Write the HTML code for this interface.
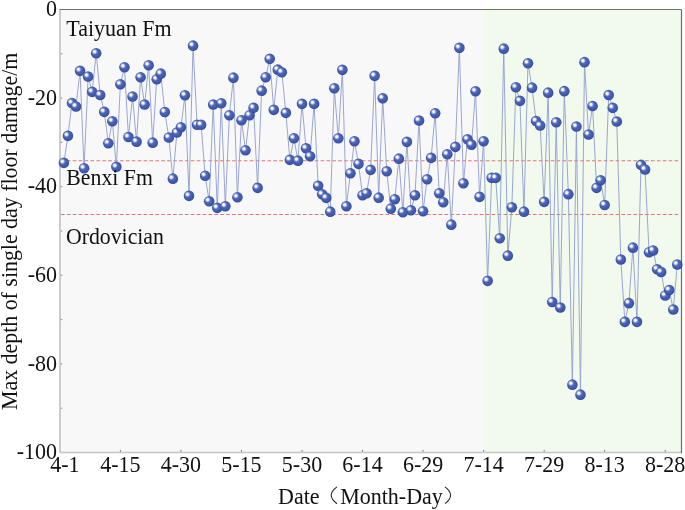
<!DOCTYPE html><html><head><meta charset="utf-8"><style>html,body{margin:0;padding:0;background:#fff;}svg{display:block;}text{font-family:"Liberation Serif",serif;fill:#111;}</style></head><body>
<svg width="685" height="510" viewBox="0 0 685 510">
<defs><radialGradient id="g" cx="0.44" cy="0.40" r="0.62"><stop offset="0" stop-color="#5d74c2"/><stop offset="0.45" stop-color="#4862b5"/><stop offset="0.75" stop-color="#3f58aa"/><stop offset="1" stop-color="#33479a"/></radialGradient><radialGradient id="h"><stop offset="0" stop-color="#fff" stop-opacity="1"/><stop offset="0.33" stop-color="#fdfdff" stop-opacity="0.96"/><stop offset="0.66" stop-color="#e4e9f8" stop-opacity="0.45"/><stop offset="1" stop-color="#dfe5f7" stop-opacity="0"/></radialGradient><g id="m"><circle r="5.3" fill="url(#g)"/><circle cx="-1.6" cy="-1.5" r="3.1" fill="url(#h)"/></g></defs>
<rect x="60.0" y="9.5" width="424.0" height="443.0" fill="#f8f8f8"/>
<rect x="484.0" y="9.5" width="197.5" height="443.0" fill="#f2faee"/>
<line x1="61.0" y1="160.7" x2="680.5" y2="160.7" stroke="#e57373" stroke-width="1.1" stroke-dasharray="3.6 2.3"/>
<line x1="61.0" y1="214.5" x2="680.5" y2="214.5" stroke="#e57373" stroke-width="1.1" stroke-dasharray="3.6 2.3"/>
<line x1="60.0" y1="9.5" x2="60.0" y2="452.5" stroke="#c4c4c4" stroke-width="1.7"/>
<line x1="60.0" y1="452.5" x2="681.5" y2="452.5" stroke="#c4c4c4" stroke-width="1.7"/>
<line x1="59.5" y1="9.5" x2="681.5" y2="9.5" stroke="#6e6e6e" stroke-width="1.2"/>
<line x1="681.5" y1="9.5" x2="681.5" y2="453.3" stroke="#6e6e6e" stroke-width="1.2"/>
<line x1="60.8" y1="53.80" x2="62.3" y2="53.80" stroke="#888" stroke-width="1"/>
<line x1="60.8" y1="98.10" x2="62.3" y2="98.10" stroke="#888" stroke-width="1"/>
<line x1="60.8" y1="142.40" x2="62.3" y2="142.40" stroke="#888" stroke-width="1"/>
<line x1="60.8" y1="186.70" x2="62.3" y2="186.70" stroke="#888" stroke-width="1"/>
<line x1="60.8" y1="231.00" x2="62.3" y2="231.00" stroke="#888" stroke-width="1"/>
<line x1="60.8" y1="275.30" x2="62.3" y2="275.30" stroke="#888" stroke-width="1"/>
<line x1="60.8" y1="319.60" x2="62.3" y2="319.60" stroke="#888" stroke-width="1"/>
<line x1="60.8" y1="363.90" x2="62.3" y2="363.90" stroke="#888" stroke-width="1"/>
<line x1="60.8" y1="408.20" x2="62.3" y2="408.20" stroke="#888" stroke-width="1"/>
<line x1="120.40" y1="451.7" x2="120.40" y2="449.9" stroke="#777" stroke-width="1"/>
<line x1="180.93" y1="451.7" x2="180.93" y2="449.9" stroke="#777" stroke-width="1"/>
<line x1="241.47" y1="451.7" x2="241.47" y2="449.9" stroke="#777" stroke-width="1"/>
<line x1="302.00" y1="451.7" x2="302.00" y2="449.9" stroke="#777" stroke-width="1"/>
<line x1="362.53" y1="451.7" x2="362.53" y2="449.9" stroke="#777" stroke-width="1"/>
<line x1="423.07" y1="451.7" x2="423.07" y2="449.9" stroke="#777" stroke-width="1"/>
<line x1="483.60" y1="451.7" x2="483.60" y2="449.9" stroke="#777" stroke-width="1"/>
<line x1="544.14" y1="451.7" x2="544.14" y2="449.9" stroke="#777" stroke-width="1"/>
<line x1="604.67" y1="451.7" x2="604.67" y2="449.9" stroke="#777" stroke-width="1"/>
<line x1="665.20" y1="451.7" x2="665.20" y2="449.9" stroke="#777" stroke-width="1"/>
<polyline points="63.90,162.85 67.94,135.85 71.97,103.05 76.01,106.45 80.04,70.85 84.08,168.25 88.11,76.45 92.15,91.85 96.18,53.25 100.22,94.95 104.26,111.85 108.29,143.25 112.33,121.25 116.36,166.85 120.40,84.25 124.43,67.25 128.47,137.05 132.51,96.45 136.54,141.65 140.58,77.25 144.61,104.55 148.65,65.25 152.68,142.65 156.72,79.25 160.75,73.65 164.79,111.95 168.83,137.45 172.86,178.65 176.90,132.55 180.93,127.25 184.97,95.25 189.00,195.85 193.04,45.65 197.07,124.75 201.11,124.75 205.15,175.75 209.18,201.25 213.22,104.55 217.25,207.85 221.29,103.25 225.32,206.25 229.36,115.25 233.40,77.65 237.43,197.25 241.47,120.25 245.50,150.25 249.54,115.25 253.57,107.85 257.61,187.85 261.64,90.65 265.68,77.25 269.72,58.85 273.75,109.85 277.79,69.65 281.82,72.25 285.86,112.85 289.89,159.85 293.93,138.25 297.96,160.65 302.00,103.85 306.04,148.25 310.07,156.25 314.11,103.85 318.14,185.85 322.18,194.25 326.21,197.85 330.25,211.65 334.29,88.25 338.32,138.25 342.36,69.85 346.39,206.25 350.43,173.25 354.46,141.25 358.50,163.85 362.53,195.25 366.57,193.25 370.61,169.85 374.64,75.85 378.68,197.65 382.71,98.25 386.75,171.25 390.78,208.65 394.82,199.25 398.85,158.65 402.89,212.25 406.93,141.85 410.96,210.25 415.00,195.25 419.03,120.55 423.07,211.25 427.10,179.25 431.14,157.85 435.18,113.25 439.21,193.25 443.25,202.25 447.28,154.25 451.32,224.65 455.35,146.85 459.39,47.85 463.42,183.25 467.46,139.25 471.50,144.65 475.53,91.25 479.57,196.85 483.60,141.25 487.64,280.85 491.67,177.85 495.71,177.85 499.74,238.25 503.78,48.65 507.82,255.65 511.85,207.25 515.89,87.25 519.92,100.85 523.96,211.65 527.99,63.25 532.03,87.65 536.07,121.05 540.10,125.55 544.14,201.85 548.17,92.65 552.21,301.95 556.24,122.25 560.28,307.45 564.31,91.15 568.35,194.15 572.39,384.65 576.42,126.55 580.46,394.65 584.49,62.15 588.53,134.45 592.56,105.95 596.60,187.85 600.63,180.35 604.67,204.95 608.71,95.05 612.74,107.85 616.78,121.55 620.81,259.55 624.85,321.85 628.88,303.15 632.92,247.65 636.96,321.85 640.99,164.85 645.03,169.45 649.06,252.25 653.10,250.45 657.13,269.25 661.17,272.05 665.20,295.45 669.24,289.95 673.28,309.45 677.31,264.45" fill="none" stroke="#94a1d1" stroke-width="0.95"/>
<use href="#m" x="63.90" y="162.85"/>
<use href="#m" x="67.94" y="135.85"/>
<use href="#m" x="71.97" y="103.05"/>
<use href="#m" x="76.01" y="106.45"/>
<use href="#m" x="80.04" y="70.85"/>
<use href="#m" x="84.08" y="168.25"/>
<use href="#m" x="88.11" y="76.45"/>
<use href="#m" x="92.15" y="91.85"/>
<use href="#m" x="96.18" y="53.25"/>
<use href="#m" x="100.22" y="94.95"/>
<use href="#m" x="104.26" y="111.85"/>
<use href="#m" x="108.29" y="143.25"/>
<use href="#m" x="112.33" y="121.25"/>
<use href="#m" x="116.36" y="166.85"/>
<use href="#m" x="120.40" y="84.25"/>
<use href="#m" x="124.43" y="67.25"/>
<use href="#m" x="128.47" y="137.05"/>
<use href="#m" x="132.51" y="96.45"/>
<use href="#m" x="136.54" y="141.65"/>
<use href="#m" x="140.58" y="77.25"/>
<use href="#m" x="144.61" y="104.55"/>
<use href="#m" x="148.65" y="65.25"/>
<use href="#m" x="152.68" y="142.65"/>
<use href="#m" x="156.72" y="79.25"/>
<use href="#m" x="160.75" y="73.65"/>
<use href="#m" x="164.79" y="111.95"/>
<use href="#m" x="168.83" y="137.45"/>
<use href="#m" x="172.86" y="178.65"/>
<use href="#m" x="176.90" y="132.55"/>
<use href="#m" x="180.93" y="127.25"/>
<use href="#m" x="184.97" y="95.25"/>
<use href="#m" x="189.00" y="195.85"/>
<use href="#m" x="193.04" y="45.65"/>
<use href="#m" x="197.07" y="124.75"/>
<use href="#m" x="201.11" y="124.75"/>
<use href="#m" x="205.15" y="175.75"/>
<use href="#m" x="209.18" y="201.25"/>
<use href="#m" x="213.22" y="104.55"/>
<use href="#m" x="217.25" y="207.85"/>
<use href="#m" x="221.29" y="103.25"/>
<use href="#m" x="225.32" y="206.25"/>
<use href="#m" x="229.36" y="115.25"/>
<use href="#m" x="233.40" y="77.65"/>
<use href="#m" x="237.43" y="197.25"/>
<use href="#m" x="241.47" y="120.25"/>
<use href="#m" x="245.50" y="150.25"/>
<use href="#m" x="249.54" y="115.25"/>
<use href="#m" x="253.57" y="107.85"/>
<use href="#m" x="257.61" y="187.85"/>
<use href="#m" x="261.64" y="90.65"/>
<use href="#m" x="265.68" y="77.25"/>
<use href="#m" x="269.72" y="58.85"/>
<use href="#m" x="273.75" y="109.85"/>
<use href="#m" x="277.79" y="69.65"/>
<use href="#m" x="281.82" y="72.25"/>
<use href="#m" x="285.86" y="112.85"/>
<use href="#m" x="289.89" y="159.85"/>
<use href="#m" x="293.93" y="138.25"/>
<use href="#m" x="297.96" y="160.65"/>
<use href="#m" x="302.00" y="103.85"/>
<use href="#m" x="306.04" y="148.25"/>
<use href="#m" x="310.07" y="156.25"/>
<use href="#m" x="314.11" y="103.85"/>
<use href="#m" x="318.14" y="185.85"/>
<use href="#m" x="322.18" y="194.25"/>
<use href="#m" x="326.21" y="197.85"/>
<use href="#m" x="330.25" y="211.65"/>
<use href="#m" x="334.29" y="88.25"/>
<use href="#m" x="338.32" y="138.25"/>
<use href="#m" x="342.36" y="69.85"/>
<use href="#m" x="346.39" y="206.25"/>
<use href="#m" x="350.43" y="173.25"/>
<use href="#m" x="354.46" y="141.25"/>
<use href="#m" x="358.50" y="163.85"/>
<use href="#m" x="362.53" y="195.25"/>
<use href="#m" x="366.57" y="193.25"/>
<use href="#m" x="370.61" y="169.85"/>
<use href="#m" x="374.64" y="75.85"/>
<use href="#m" x="378.68" y="197.65"/>
<use href="#m" x="382.71" y="98.25"/>
<use href="#m" x="386.75" y="171.25"/>
<use href="#m" x="390.78" y="208.65"/>
<use href="#m" x="394.82" y="199.25"/>
<use href="#m" x="398.85" y="158.65"/>
<use href="#m" x="402.89" y="212.25"/>
<use href="#m" x="406.93" y="141.85"/>
<use href="#m" x="410.96" y="210.25"/>
<use href="#m" x="415.00" y="195.25"/>
<use href="#m" x="419.03" y="120.55"/>
<use href="#m" x="423.07" y="211.25"/>
<use href="#m" x="427.10" y="179.25"/>
<use href="#m" x="431.14" y="157.85"/>
<use href="#m" x="435.18" y="113.25"/>
<use href="#m" x="439.21" y="193.25"/>
<use href="#m" x="443.25" y="202.25"/>
<use href="#m" x="447.28" y="154.25"/>
<use href="#m" x="451.32" y="224.65"/>
<use href="#m" x="455.35" y="146.85"/>
<use href="#m" x="459.39" y="47.85"/>
<use href="#m" x="463.42" y="183.25"/>
<use href="#m" x="467.46" y="139.25"/>
<use href="#m" x="471.50" y="144.65"/>
<use href="#m" x="475.53" y="91.25"/>
<use href="#m" x="479.57" y="196.85"/>
<use href="#m" x="483.60" y="141.25"/>
<use href="#m" x="487.64" y="280.85"/>
<use href="#m" x="491.67" y="177.85"/>
<use href="#m" x="495.71" y="177.85"/>
<use href="#m" x="499.74" y="238.25"/>
<use href="#m" x="503.78" y="48.65"/>
<use href="#m" x="507.82" y="255.65"/>
<use href="#m" x="511.85" y="207.25"/>
<use href="#m" x="515.89" y="87.25"/>
<use href="#m" x="519.92" y="100.85"/>
<use href="#m" x="523.96" y="211.65"/>
<use href="#m" x="527.99" y="63.25"/>
<use href="#m" x="532.03" y="87.65"/>
<use href="#m" x="536.07" y="121.05"/>
<use href="#m" x="540.10" y="125.55"/>
<use href="#m" x="544.14" y="201.85"/>
<use href="#m" x="548.17" y="92.65"/>
<use href="#m" x="552.21" y="301.95"/>
<use href="#m" x="556.24" y="122.25"/>
<use href="#m" x="560.28" y="307.45"/>
<use href="#m" x="564.31" y="91.15"/>
<use href="#m" x="568.35" y="194.15"/>
<use href="#m" x="572.39" y="384.65"/>
<use href="#m" x="576.42" y="126.55"/>
<use href="#m" x="580.46" y="394.65"/>
<use href="#m" x="584.49" y="62.15"/>
<use href="#m" x="588.53" y="134.45"/>
<use href="#m" x="592.56" y="105.95"/>
<use href="#m" x="596.60" y="187.85"/>
<use href="#m" x="600.63" y="180.35"/>
<use href="#m" x="604.67" y="204.95"/>
<use href="#m" x="608.71" y="95.05"/>
<use href="#m" x="612.74" y="107.85"/>
<use href="#m" x="616.78" y="121.55"/>
<use href="#m" x="620.81" y="259.55"/>
<use href="#m" x="624.85" y="321.85"/>
<use href="#m" x="628.88" y="303.15"/>
<use href="#m" x="632.92" y="247.65"/>
<use href="#m" x="636.96" y="321.85"/>
<use href="#m" x="640.99" y="164.85"/>
<use href="#m" x="645.03" y="169.45"/>
<use href="#m" x="649.06" y="252.25"/>
<use href="#m" x="653.10" y="250.45"/>
<use href="#m" x="657.13" y="269.25"/>
<use href="#m" x="661.17" y="272.05"/>
<use href="#m" x="665.20" y="295.45"/>
<use href="#m" x="669.24" y="289.95"/>
<use href="#m" x="673.28" y="309.45"/>
<use href="#m" x="677.31" y="264.45"/>
<g opacity="0.999">
<text transform="translate(66.30,35.80) scale(1,1.05)" font-size="22">Taiyuan Fm</text>
<text transform="translate(66.30,185.30) scale(1,1.05)" font-size="21.8">Benxi Fm</text>
<text transform="translate(65.90,243.90) scale(1,1.05)" font-size="21.8">Ordovician</text>
<text transform="translate(57.00,16.10) scale(1,1.05)" font-size="22" text-anchor="end">0</text>
<text transform="translate(57.00,104.70) scale(1,1.05)" font-size="22" text-anchor="end">-20</text>
<text transform="translate(57.00,193.30) scale(1,1.05)" font-size="22" text-anchor="end">-40</text>
<text transform="translate(57.00,281.90) scale(1,1.05)" font-size="22" text-anchor="end">-60</text>
<text transform="translate(57.00,370.50) scale(1,1.05)" font-size="22" text-anchor="end">-80</text>
<text transform="translate(57.00,459.10) scale(1,1.05)" font-size="22" text-anchor="end">-100</text>
<text transform="translate(64.90,472.30) scale(1,1.05)" font-size="22" text-anchor="middle">4-1</text>
<text transform="translate(120.40,472.30) scale(1,1.05)" font-size="22" text-anchor="middle">4-15</text>
<text transform="translate(180.93,472.30) scale(1,1.05)" font-size="22" text-anchor="middle">4-30</text>
<text transform="translate(241.47,472.30) scale(1,1.05)" font-size="22" text-anchor="middle">5-15</text>
<text transform="translate(302.00,472.30) scale(1,1.05)" font-size="22" text-anchor="middle">5-30</text>
<text transform="translate(362.53,472.30) scale(1,1.05)" font-size="22" text-anchor="middle">6-14</text>
<text transform="translate(423.07,472.30) scale(1,1.05)" font-size="22" text-anchor="middle">6-29</text>
<text transform="translate(483.60,472.30) scale(1,1.05)" font-size="22" text-anchor="middle">7-14</text>
<text transform="translate(544.14,472.30) scale(1,1.05)" font-size="22" text-anchor="middle">7-29</text>
<text transform="translate(604.67,472.30) scale(1,1.05)" font-size="22" text-anchor="middle">8-13</text>
<text transform="translate(665.20,472.30) scale(1,1.05)" font-size="22" text-anchor="middle">8-28</text>
<text transform="translate(278.00,503.60) scale(1,1.05)" font-size="22">Date</text>
<path d="M337.0,486.9 Q325.4,495.3 337.0,503.7" fill="none" stroke="#222" stroke-width="1.05"/>
<text transform="translate(340.20,503.60) scale(1,1.05)" font-size="22">Month-Day</text>
<path d="M445.0,486.9 Q456.2,495.3 445.0,503.7" fill="none" stroke="#222" stroke-width="1.05"/>
<text font-size="21.9" transform="translate(16.8,410) rotate(-90) scale(1,1.05)">Max depth of single day floor damage/m</text>
</g>
</svg></body></html>
